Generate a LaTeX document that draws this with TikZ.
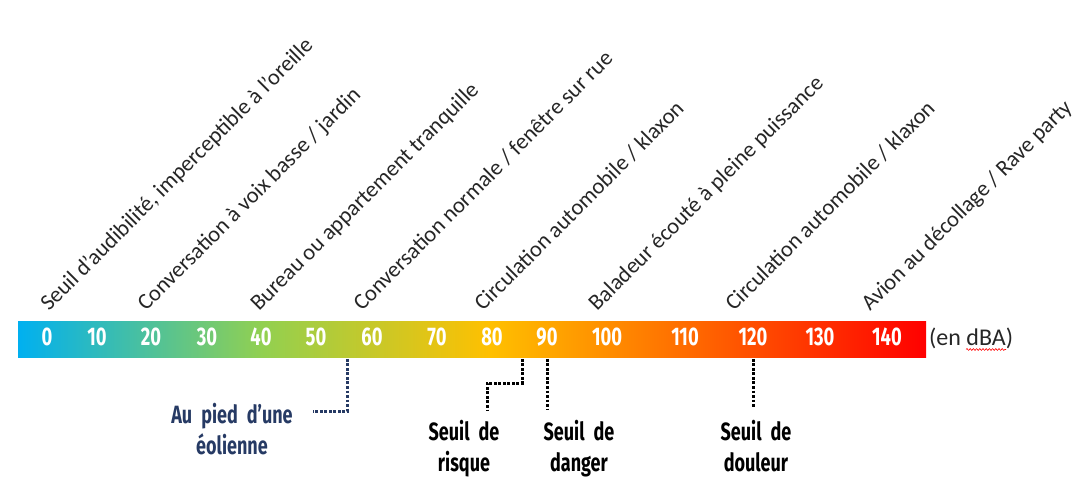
\documentclass[tikz,border=0pt]{standalone}
\usepackage{fontspec}
\setmainfont{Carlito}
\newfontfamily\condfont{Fira Sans}
\usetikzlibrary{decorations.pathmorphing}

\definecolor{scCyan}{RGB}{0,176,240}
\definecolor{scGreen}{RGB}{146,208,80}
\definecolor{scGold}{RGB}{255,192,0}
\definecolor{scOrange}{RGB}{255,102,0}
\definecolor{scRed}{RGB}{255,0,0}
\definecolor{txtGray}{RGB}{38,38,38}
\definecolor{navyTxt}{RGB}{38,58,100}

% horizontal colour scale: the 25bp..75bp band is stretched over the bar
\pgfdeclarehorizontalshading{dbscale}{100bp}{%
  color(0bp)=(scCyan); color(25bp)=(scCyan);
  color(38.5bp)=(scGreen); color(51bp)=(scGold);
  color(62.5bp)=(scOrange); color(75bp)=(scRed); color(100bp)=(scRed)}

% condensed lettering for the scale figures and the threshold notes
\newcommand\cond[1]{\scalebox{0.72}[1]{#1}}
\newcommand\twolines[2]{{\spaceskip=0.5em\relax
  \cond{\begin{tabular}[t]{@{}c@{}}#1\\#2\end{tabular}}}}

\tikzset{
  rotlabel/.style={anchor=base west, rotate=45, inner sep=0pt, text=txtGray,
    font=\fontsize{22.5}{27}\selectfont},
  numlabel/.style={anchor=base, inner sep=0pt, text=white,
    font=\condfont\bfseries\fontsize{25.5}{30}\selectfont},
  notelabel/.style={anchor=base, inner sep=0pt,
    font=\condfont\bfseries\fontsize{25}{31}\selectfont},
  dotline/.style={line width=3pt, dash pattern=on 2.6pt off 1.9pt}
}

\begin{document}
\begin{tikzpicture}[x=1pt,y=-1pt]
\useasboundingbox (0,0) rectangle (1074,478);

% the decibel bar
\node[shading=dbscale, minimum width=908pt, minimum height=36pt, inner sep=0pt,
      anchor=north west] (bar) at (18,321) {};

% scale figures
\foreach \v/\x in {0/47,10/97,20/151,30/207,40/261,50/316,60/372,70/437,
                   80/492,90/547,100/607,110/685,120/753,130/820,140/887}
  \node[numlabel] (n\v) at (\x,345) {\cond{\v}};

\node[anchor=base west, inner sep=0pt, text=txtGray,
      font=\fontsize{24}{28}\selectfont] (unit) at (929,345) {(en dBA)};
\draw[red, line width=0.6pt, decorate,
      decoration={snake, amplitude=0.9pt, segment length=3.2pt}]
  (966,349.5) -- (1006,349.5);

% sources of noise
\node[rotlabel] (s0)   at (49,312)  {Seuil d’audibilité, imperceptible à l’oreille};
\node[rotlabel] (s20)  at (146,312) {Conversation à voix basse / jardin};
\node[rotlabel] (s40)  at (259,312) {Bureau ou appartement tranquille};
\node[rotlabel] (s60)  at (362,312) {Conversation normale / fenêtre sur rue};
\node[rotlabel] (s80)  at (483,312) {Circulation automobile / klaxon};
\node[rotlabel] (s100) at (597,312) {Baladeur écouté à pleine puissance};
\node[rotlabel] (s120) at (734,312) {Circulation automobile / klaxon};
\node[rotlabel] (s140) at (870,312) {Avion au décollage / Rave party};

% thresholds below the bar
\node[notelabel, text=navyTxt] (eol) at (232,423) {\twolines{Au pied d’une}{éolienne}};
\node[notelabel] (risk)   at (464,440) {\twolines{Seuil de}{risque}};
\node[notelabel] (danger) at (579,440) {\twolines{Seuil de}{danger}};
\node[notelabel] (pain)   at (756,440) {\twolines{Seuil de}{douleur}};

% dotted leaders
\coordinate (t45)  at (347,359);
\coordinate (e45)  at (313,411);
\coordinate (t85)  at (522,359);
\coordinate (k85)  at (487,383);
\coordinate (e85)  at (487,410);
\coordinate (t90)  at (547,359);
\coordinate (e90)  at (547,410);
\coordinate (t120) at (753,359);
\coordinate (e120) at (753,408);

\draw[dotline, navyTxt] (t45) |- (e45);
\draw[dotline] (t85) |- (k85) -- (e85);
\draw[dotline] (t90) -- (e90);
\draw[dotline] (t120) -- (e120);
\end{tikzpicture}
\end{document}
